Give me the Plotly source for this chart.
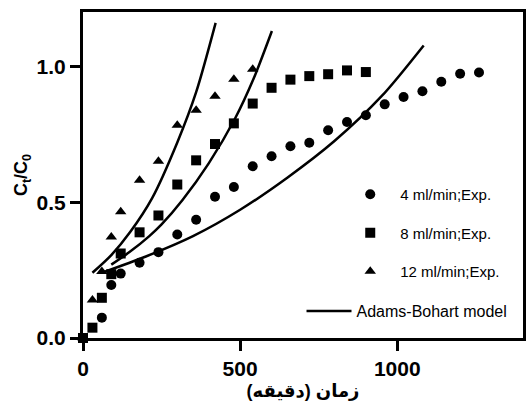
import plotly.graph_objects as go

# Experimental data (time in minutes, Ct/C0)
t_4 = [0, 60, 90, 120, 180, 240, 300, 360, 420, 480, 540, 600, 660, 720, 780, 840, 900, 960, 1020, 1080, 1140, 1200, 1260]
c_4 = [0, 0.075, 0.195, 0.237, 0.277, 0.316, 0.381, 0.435, 0.52, 0.556, 0.632, 0.669, 0.706, 0.719, 0.765, 0.795, 0.82, 0.86, 0.887, 0.908, 0.943, 0.973, 0.977]

t_8 = [0, 30, 60, 90, 120, 180, 240, 300, 360, 420, 480, 540, 600, 660, 720, 780, 840, 900]
c_8 = [0, 0.038, 0.148, 0.235, 0.311, 0.389, 0.451, 0.565, 0.654, 0.714, 0.79, 0.863, 0.921, 0.951, 0.964, 0.971, 0.985, 0.979]

t_12 = [0, 30, 60, 90, 120, 180, 240, 300, 360, 420, 480, 540]
c_12 = [0, 0.14, 0.245, 0.372, 0.465, 0.581, 0.651, 0.783, 0.838, 0.89, 0.952, 0.989]

# Adams-Bohart model curves
m4_t = [60, 200, 350, 500, 650, 800, 950, 1084]
m4_c = [0.24, 0.30, 0.375, 0.472, 0.59, 0.725, 0.89, 1.077]
m8_t = [90, 150, 211, 250, 316, 400, 483, 543, 601]
m8_c = [0.27, 0.318, 0.375, 0.418, 0.507, 0.643, 0.806, 0.955, 1.13]
m12_t = [30, 90, 150, 220, 300, 360, 422]
m12_c = [0.24, 0.305, 0.39, 0.515, 0.72, 0.905, 1.16]

x_ticks = [0, 500, 1000]
y_ticks = [0, 0.5, 1.0]
y_ticktext = ["0.0", "0.5", "1.0"]

FONT = "Arial, Liberation Sans, DejaVu Sans, sans-serif"

fig = go.Figure()
series = [
    (t_4, c_4, "4 ml/min;Exp.", "circle", 10),
    (t_8, c_8, "8 ml/min;Exp.", "square", 10),
    (t_12, c_12, "12 ml/min;Exp.", "triangle-up", 10),
]
for i, (tx, cy, name, sym, sz) in enumerate(series):
    fig.add_trace(go.Scatter(
        x=tx, y=cy, mode="markers", name=name,
        marker=dict(symbol=sym, size=sz, color="black"),
        cliponaxis=False, legend="legend", legendgroup="g%d" % i,
    ))

for i, (tx, cy) in enumerate([(m4_t, m4_c), (m8_t, m8_c), (m12_t, m12_c)]):
    fig.add_trace(go.Scatter(
        x=tx, y=cy, mode="lines", name="Adams-Bohart model",
        line=dict(color="black", width=2.5, shape="spline", smoothing=0.8),
        showlegend=(i == 0), legend="legend2", legendgroup="model",
    ))

fig.update_layout(
    width=528, height=414,
    margin=dict(l=83, r=2, t=12, b=76),
    paper_bgcolor="white", plot_bgcolor="white",
    font=dict(family=FONT, color="black"),
    xaxis=dict(
        range=[0, 1400], tickvals=x_ticks, ticks="outside", ticklen=10, tickwidth=3,
        tickcolor="black", linecolor="black", linewidth=3, mirror=True,
        showgrid=False, zeroline=False,
        tickfont=dict(size=21, weight="bold", family=FONT),
        title=dict(text="زمان (دقیقه)", font=dict(size=18, weight="bold", family=FONT), standoff=6),
    ),
    yaxis=dict(
        range=[0, 1.2], tickvals=y_ticks, ticktext=y_ticktext, ticks="outside", ticklen=10, tickwidth=3,
        tickcolor="black", linecolor="black", linewidth=3, mirror=True,
        showgrid=False, zeroline=False,
        tickfont=dict(size=21, weight="bold", family=FONT),
        title=dict(text="C<sub>t</sub>/C<sub>0</sub>", font=dict(size=18, weight="bold", family=FONT), standoff=5),
    ),
    legend=dict(
        x=(342 - 83) / 443, y=(338 - 178) / 326, xanchor="left", yanchor="top",
        bgcolor="rgba(0,0,0,0)", font=dict(size=15, family=FONT),
        itemwidth=50, tracegroupgap=16,
    ),
    legend2=dict(
        x=(303 - 83) / 443, y=(338 - 311) / 326, xanchor="left", yanchor="middle",
        bgcolor="rgba(0,0,0,0)", font=dict(size=16, family=FONT),
        itemwidth=45,
    ),
)

fig.write_html("out.html")
